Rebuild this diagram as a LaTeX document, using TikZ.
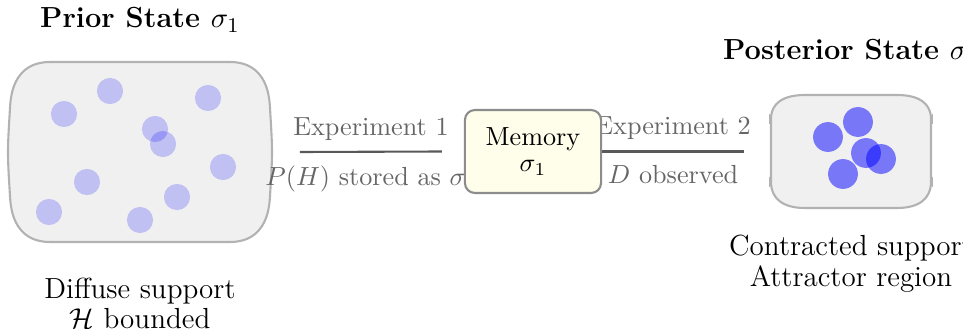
\documentclass[tikz,border=0pt]{standalone}
\usepackage{fontspec}
\pgfdeclarelayer{boxes}
\pgfdeclarelayer{wires}
\pgfsetlayers{boxes,wires,main}
\begin{document}
\begin{tikzpicture}[x=0.382pt,y=-0.382pt,
  outline/.style={draw=black!30,fill=black!6,line width=0.8pt,line join=round},
  tick/.style={draw=black!30,line width=0.6pt},
  anchorbox/.style={inner sep=0pt,outer sep=0pt},
  membox/.style={draw=black!45,fill=yellow!8,line width=0.8pt,rounded corners=3.8pt,
    minimum width=52pt,minimum height=31.7pt,align=center,inner sep=0pt},
  wire/.style={draw=black!65,line width=0.8pt},
  wirelabel/.style={text=black!60,inner sep=0pt},
  lightdot/.style={fill=blue,fill opacity=0.2,draw=none},
  darkdot/.style={fill=blue,fill opacity=0.5,draw=none},
  title/.style={font=\fontsize{11.1pt}{11.1pt}\selectfont\bfseries,inner sep=0pt},
  caption/.style={font=\fontsize{11.1pt}{11.7pt}\selectfont,align=center,inner sep=0pt}]
\useasboundingbox (0,0) rectangle (963,329);

% the two state regions: anchor nodes first, outlines drawn below
\node[anchorbox,minimum width=100.8pt,minimum height=68.8pt] (prior) at (140,152) {};
\node[anchorbox,minimum width=61.9pt,minimum height=43.2pt] (post) at (851,151.5) {};

\begin{pgfonlayer}{boxes}
  % prior distribution: wide support
  \path[outline] (50,62) -- (230,62) .. controls (258,62) and (269,82) .. (270,108)
    .. controls (271,125) and (272,140) .. (272,152)
    .. controls (272,165) and (271,180) .. (270,196)
    .. controls (269,222) and (258,242) .. (230,242) -- (50,242)
    .. controls (22,242) and (11,222) .. (10,196)
    .. controls (9,180) and (8,165) .. (8,152)
    .. controls (8,140) and (9,125) .. (10,108)
    .. controls (11,82) and (22,62) .. (50,62) -- cycle;
  \foreach \px/\py in {64/114,110/91,208/98,155/129,163/144,223/167,87/182,177/197,49/212,140/220}
    \fill[lightdot] (\px,\py) circle (5pt);
  % posterior distribution: concentrated support
  \path[outline] (805,95) -- (897,95) .. controls (920,95) and (930,104) .. (931,117)
    -- (931,184) .. controls (930,198) and (920,208) .. (897,208) -- (805,208)
    .. controls (782,208) and (772,198) .. (771,184) -- (771,117)
    .. controls (772,104) and (782,95) .. (805,95) -- cycle;
  \foreach \tx in {769.5,932.5}
    \draw[tick] (\tx,114) -- (\tx,124) (\tx,177) -- (\tx,187);
  \foreach \px/\py in {828/137,858/122,866/153,881/159,843/174}
    \fill[darkdot] (\px,\py) circle (5.7pt);
\end{pgfonlayer}

\node[title] (priortitle) at (140,20) {Prior State $\sigma_1$};
\node[title] (posttitle) at (851,52) {Posterior State $\sigma_2$};
\node[caption] (priorcap) at (140,303.5) {Diffuse support\\ $\mathcal{H}$ bounded};
\node[caption] (postcap) at (851,264) {Contracted support\\ Attractor region};

\node[membox] (mem) at (533,151.5) {Memory\\[-2pt] $\sigma_1$};

\begin{pgfonlayer}{wires}
  \draw[wire] ([xshift=10.7pt]prior.east) -- ([xshift=-8.4pt]mem.west)
    node[wirelabel,pos=0.5,above=4pt] {Experiment 1}
    node[wirelabel,pos=0.5,below=5pt] {$P(H)$ stored as $\sigma_1$};
  \draw[wire] (mem.east) -- ([xshift=-9.9pt]post.west)
    node[wirelabel,pos=0.5,above=4pt] {Experiment 2}
    node[wirelabel,pos=0.5,below=5pt] {$D$ observed};
\end{pgfonlayer}
\end{tikzpicture}
\end{document}
